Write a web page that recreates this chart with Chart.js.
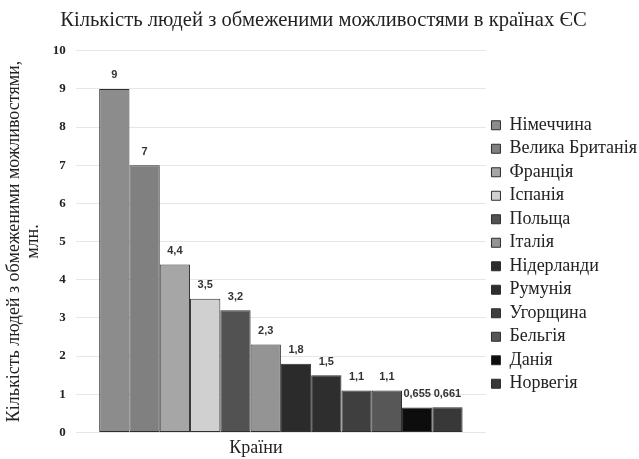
<!DOCTYPE html>
<html lang="uk">
<head>
<meta charset="utf-8">
<title>Кількість людей з обмеженими можливостями в країнах ЄС</title>
<script src="https://cdn.jsdelivr.net/npm/chart.js@4/dist/chart.umd.min.js"></script>
<style>
  html, body { margin: 0; padding: 0; background: #fff; }
  #wrap { width: 639px; height: 459px; }
</style>
</head>
<body>
<div id="wrap"><canvas id="chart" width="639" height="459"></canvas></div>
<script>
// Countries and the number of people with disabilities, million
const countries = ['Німеччина', 'Велика Британія', 'Франція', 'Іспанія', 'Польща', 'Італія',
                   'Нідерланди', 'Румунія', 'Угорщина', 'Бельгія', 'Данія', 'Норвегія'];
const people = [9, 7, 4.4, 3.5, 3.2, 2.3, 1.8, 1.5, 1.1, 1.1, 0.655, 0.661];
const barColors = ['#8c8c8c', '#808080', '#a6a6a6', '#d0d0d0', '#525252', '#949494',
                   '#2b2b2b', '#2e2e2e', '#3f3f3f', '#575757', '#0d0d0d', '#383838'];
const category = ['Країни'];
const xAxisTitle = 'Країни';

const serif = '"Liberation Serif", "Times New Roman", serif';

// Writes each bar's value above it, with a decimal comma
const valueLabels = {
  id: 'valueLabels',
  afterDatasetsDraw(chart) {
    const ctx = chart.ctx;
    ctx.save();
    ctx.font = 'bold 11px "Liberation Sans", Arial, sans-serif';
    ctx.fillStyle = '#333';
    ctx.textAlign = 'center';
    ctx.textBaseline = 'bottom';
    chart.data.datasets.forEach((ds, i) => {
      const bar = chart.getDatasetMeta(i).data[0];
      const text = String(ds.data[0]).replace('.', ',');
      ctx.fillText(text, bar.x, bar.y - 8);
    });
    ctx.restore();
  }
};

// Horizontal axis caption, set a little left of the plot centre
const xCaption = {
  id: 'xCaption',
  afterDraw(chart) {
    const { ctx, chartArea, scales } = chart;
    ctx.save();
    ctx.font = '18px ' + serif;
    ctx.fillStyle = '#222';
    ctx.textAlign = 'center';
    ctx.textBaseline = 'middle';
    const cx = (chartArea.left + chartArea.right) / 2 - 25;
    const cy = scales.x.bottom - 11;
    ctx.fillText(xAxisTitle, cx, cy);
    ctx.restore();
  }
};

const datasets = countries.map((name, i) => ({
  label: name,
  data: [people[i]],
  backgroundColor: barColors[i],
  borderColor: '#2e2e2e',
  borderWidth: 1,
  borderSkipped: false,
  barPercentage: 1,
  categoryPercentage: 0.886
}));

new Chart(document.getElementById('chart'), {
  type: 'bar',
  data: { labels: category, datasets },
  plugins: [valueLabels, xCaption],
  options: {
    responsive: false,
    animation: false,
    layout: { padding: { left: 0, right: -8, top: 0, bottom: 0 } },
    plugins: {
      title: {
        display: true,
        text: 'Кількість людей з обмеженими можливостями в країнах ЄС',
        color: '#222',
        font: { family: serif, size: 20.6, weight: 'normal', lineHeight: 1.2 },
        padding: { top: 8, bottom: 18 }
      },
      legend: {
        position: 'right',
        align: 'center',
        title: {
          display: true,
          text: '',
          font: { size: 10, lineHeight: 1.2 },
          padding: { top: 38, bottom: 0 }
        },
        labels: {
          color: '#222',
          font: { family: serif, size: 18, lineHeight: 1.2 },
          boxWidth: 9,
          boxHeight: 9,
          padding: 5.5
        }
      },
      tooltip: { enabled: false }
    },
    scales: {
      x: {
        grid: { display: false, drawTicks: false },
        border: { display: false },
        ticks: { display: false },
        // keeps room below the plot for the caption drawn by xCaption
        title: {
          display: true,
          text: xAxisTitle,
          color: 'rgba(0,0,0,0)',
          font: { family: serif, size: 18, lineHeight: 1.2 },
          padding: { top: 5, bottom: 0 }
        }
      },
      y: {
        min: 0,
        max: 10,
        ticks: {
          stepSize: 1,
          color: '#222',
          font: { family: serif, size: 13, weight: 'bold' },
          padding: 10
        },
        grid: { color: '#e6e6e6', drawTicks: false },
        border: { display: false },
        title: {
          display: true,
          text: ['Кількість людей з обмеженими можливостями,', 'млн.'],
          color: '#222',
          font: { family: serif, size: 18, lineHeight: 1.05 },
          padding: { top: 5, bottom: 0 }
        }
      }
    }
  }
});
</script>
</body>
</html>
